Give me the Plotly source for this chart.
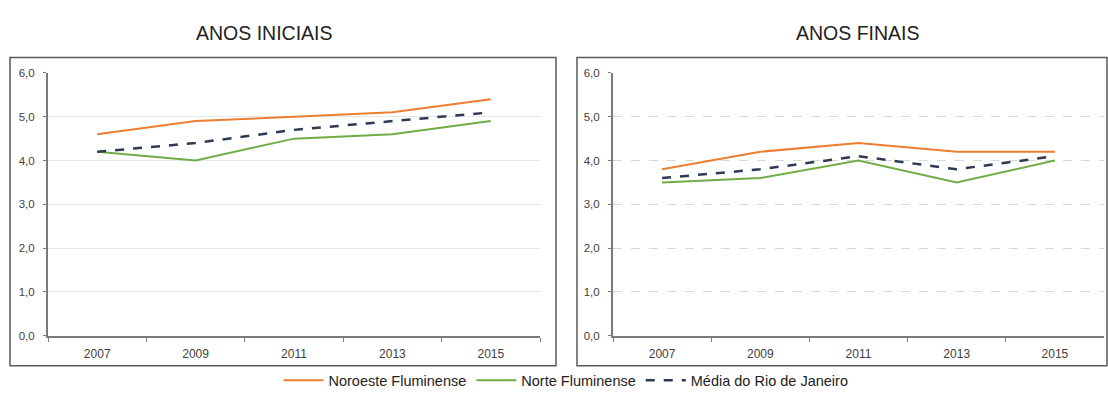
import plotly.graph_objects as go

W, H = 1108, 399

years = ["2007", "2009", "2011", "2013", "2015"]

# Anos iniciais
ini_noroeste = [4.6, 4.9, 5.0, 5.1, 5.4]
ini_norte = [4.2, 4.0, 4.5, 4.6, 4.9]
ini_media = [4.2, 4.4, 4.7, 4.9, 5.1]

# Anos finais
fin_noroeste = [3.8, 4.2, 4.4, 4.2, 4.2]
fin_norte = [3.5, 3.6, 4.0, 3.5, 4.0]
fin_media = [3.6, 3.8, 4.1, 3.8, 4.1]

y_ticks = [0, 1, 2, 3, 4, 5, 6]

ORANGE = "#ED7D31"
GREEN = "#70AD47"
NAVY = "#2E3A52"
AXIS = "#7a7a7a"
TEXT = "#404040"
FONT = "Liberation Sans, Arial"


def px_x(p):
    return p / W


def px_y(p):
    return (H - p) / H


fig = go.Figure()

series = [
    ("Noroeste Fluminense", ini_noroeste, fin_noroeste, dict(color=ORANGE, width=2)),
    ("Norte Fluminense", ini_norte, fin_norte, dict(color=GREEN, width=2)),
    ("Média do Rio de Janeiro", ini_media, fin_media, dict(color=NAVY, width=2.5, dash="dash")),
]

for name, ini, fin, line in series:
    fig.add_trace(go.Scatter(x=years, y=ini, mode="lines", name=name, line=line,
                             xaxis="x", yaxis="y", showlegend=True))
    fig.add_trace(go.Scatter(x=years, y=fin, mode="lines", name=name, line=line,
                             xaxis="x2", yaxis="y2", showlegend=False))

y_bottom = px_y(340)
y_top = px_y(69)

xcommon = dict(type="category", categoryorder="array", categoryarray=years,
               showline=True, linecolor=AXIS, linewidth=2, ticks="outside",
               tickson="boundaries", ticklen=4, tickcolor=AXIS, tickwidth=1,
               showgrid=False, zeroline=False, ticklabelstandoff=6,
               tickfont=dict(family=FONT, size=12, color=TEXT),
               range=[-0.5, 4.5], fixedrange=True)
ycommon = dict(range=[0, 6], tickvals=y_ticks, tickformat=".1f",
               showline=True, linecolor=AXIS, linewidth=2, ticks="outside",
               ticklen=3, tickcolor=AXIS, zeroline=False, showgrid=True,
               gridwidth=1, ticklabelstandoff=6,
               tickfont=dict(family=FONT, size=11.5, color=TEXT),
               fixedrange=True)

fig.update_layout(
    width=W, height=H,
    margin=dict(l=0, r=0, t=0, b=0),
    paper_bgcolor="white", plot_bgcolor="white",
    separators=",.",
    xaxis=dict(domain=[px_x(48), px_x(540)], anchor="y", **xcommon),
    yaxis=dict(domain=[y_bottom, y_top], anchor="x", gridcolor="#e6e6e6", **ycommon),
    xaxis2=dict(domain=[px_x(613), px_x(1104)], anchor="y2", **xcommon),
    yaxis2=dict(domain=[y_bottom, y_top], anchor="x2", gridcolor="#d9d9d9",
                griddash="dash", **ycommon),
    legend=dict(orientation="h", x=px_x(566), xanchor="center", y=px_y(386), yanchor="middle",
                font=dict(family=FONT, size=14.5, color="#222222"),
                itemwidth=40, tracegroupgap=0, bgcolor="rgba(0,0,0,0)"),
    showlegend=True,
    shapes=[
        dict(type="rect", xref="paper", yref="paper",
             x0=px_x(10), x1=px_x(556), y0=px_y(371), y1=px_y(53),
             line=dict(color="#5a5a5a", width=1.5), layer="below"),
        dict(type="rect", xref="paper", yref="paper",
             x0=px_x(577), x1=px_x(1107), y0=px_y(371), y1=px_y(53),
             line=dict(color="#5a5a5a", width=1.5), layer="below"),
    ],
    annotations=[
        dict(text="ANOS INICIAIS", x=px_x(264), y=px_y(28), xref="paper", yref="paper",
             showarrow=False, xanchor="center", yanchor="middle",
             font=dict(family=FONT, size=19.5, color="#222222")),
        dict(text="ANOS FINAIS", x=px_x(858), y=px_y(28), xref="paper", yref="paper",
             showarrow=False, xanchor="center", yanchor="middle",
             font=dict(family=FONT, size=19.5, color="#222222")),
    ],
)

fig.write_html("out.html")
